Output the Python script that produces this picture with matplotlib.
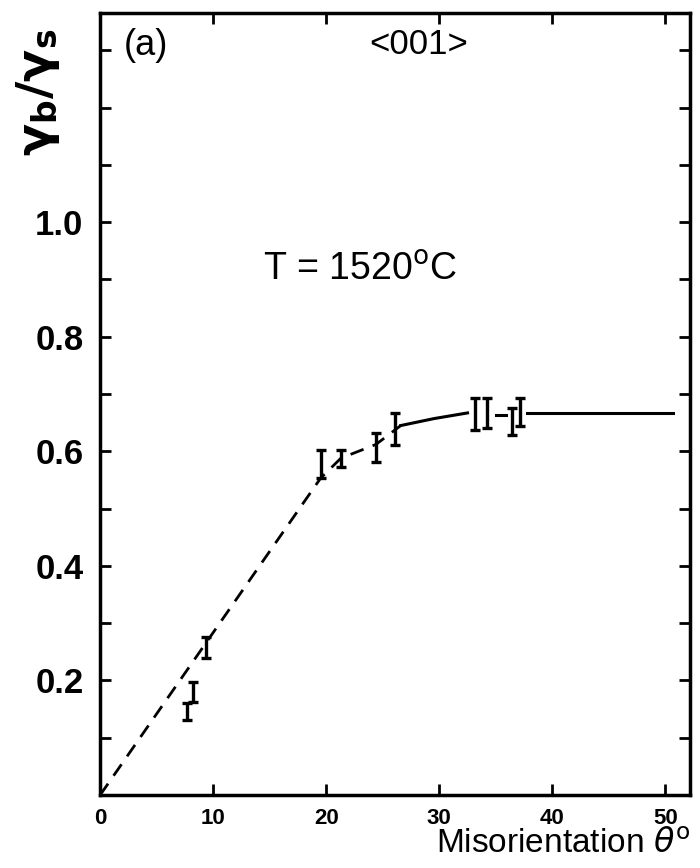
""" boundary energy ratio vs misorientation, <001> tilt """
import matplotlib
matplotlib.use('Agg')
import matplotlib.pyplot as plt
from matplotlib.ticker import MultipleLocator
import numpy as np

plt.rcParams['font.family'] = ['Liberation Sans', 'DejaVu Sans']

# measured points (misorientation in degrees, low / high end of error bar)
theta = [7.65, 8.2, 9.4, 19.5, 21.3, 24.4, 26.1, 33.2, 34.2, 36.4, 37.1]
ratio_lo = [0.131, 0.162, 0.239, 0.553, 0.572, 0.581, 0.611, 0.637, 0.640, 0.628, 0.644]
ratio_hi = [0.160, 0.197, 0.276, 0.602, 0.602, 0.632, 0.667, 0.693, 0.693, 0.675, 0.693]

# guide lines
dash_x = [0, 19.5, 21.3, 24.4, 26.6]
dash_y = [0, 0.553, 0.588, 0.612, 0.645]
solid_x = [26.6, 29.5, 32.5]
solid_y = [0.645, 0.657, 0.667]
stub_x = [35.0, 35.9]
stub_y = [0.663, 0.663]
flat_x = [37.8, 50.7]
flat_y = [0.667, 0.667]

y_ticks = [0.2, 0.4, 0.6, 0.8, 1.0]
x_ticks = [0, 10, 20, 30, 40, 50]

fig = plt.figure(figsize=(7, 8.68), dpi=100)
ax = fig.add_axes([0.143, 0.084, 0.843, 0.901])

# lines
ax.plot(dash_x, dash_y, color='black', lw=2, linestyle=(0, (5, 3.5)))
ax.plot(solid_x, solid_y, color='black', lw=2.2)
ax.plot(stub_x, stub_y, color='black', lw=2.2)
ax.plot(flat_x, flat_y, color='black', lw=2.2)

# error bars
lo = np.array(ratio_lo)
hi = np.array(ratio_hi)
mid = (lo + hi) / 2
ax.errorbar(theta, mid, yerr=[mid - lo, hi - mid], fmt='none', ecolor='black',
            elinewidth=2.4, capsize=3.5, capthick=2.4)

ax.set_xlim(0, 52.2)
ax.set_ylim(0, 1.365)

# ticks
ax.set_xticks(x_ticks)
ax.set_xticklabels([str(t) for t in x_ticks], fontsize=16, fontweight='bold')
ax.set_yticks(y_ticks)
ax.set_yticklabels(['%.1f' % t for t in y_ticks], fontsize=25, fontweight='bold')
ax.yaxis.set_minor_locator(MultipleLocator(0.1))
ax.tick_params(which='both', direction='in', top=True, right=True, width=2)
ax.tick_params(which='major', length=8)
ax.tick_params(which='minor', length=8)
ax.tick_params(axis='x', pad=9)
ax.tick_params(axis='y', pad=12)
for s in ax.spines.values():
    s.set_linewidth(2.5)

# annotations
ax.text(0.04, 0.959, '(a)', transform=ax.transAxes, fontsize=26, va='center', ha='left')
ax.text(0.54, 0.960, '<001>', transform=ax.transAxes, fontsize=25, va='center', ha='center')
ax.text(0.44, 0.671, 'T = 1520$^{\\rm o}$C', transform=ax.transAxes, fontsize=27,
        va='center', ha='center')

fig.text(0.054, 0.894, r'$\mathbf{\gamma_b/\gamma_s}$', rotation=90, fontsize=34,
         ha='center', va='center')
fig.text(0.987, 0.027, 'Misorientation $\\theta^{\\rm o}$', fontsize=24,
         ha='right', va='center')

fig.savefig('out.png', dpi=100)
